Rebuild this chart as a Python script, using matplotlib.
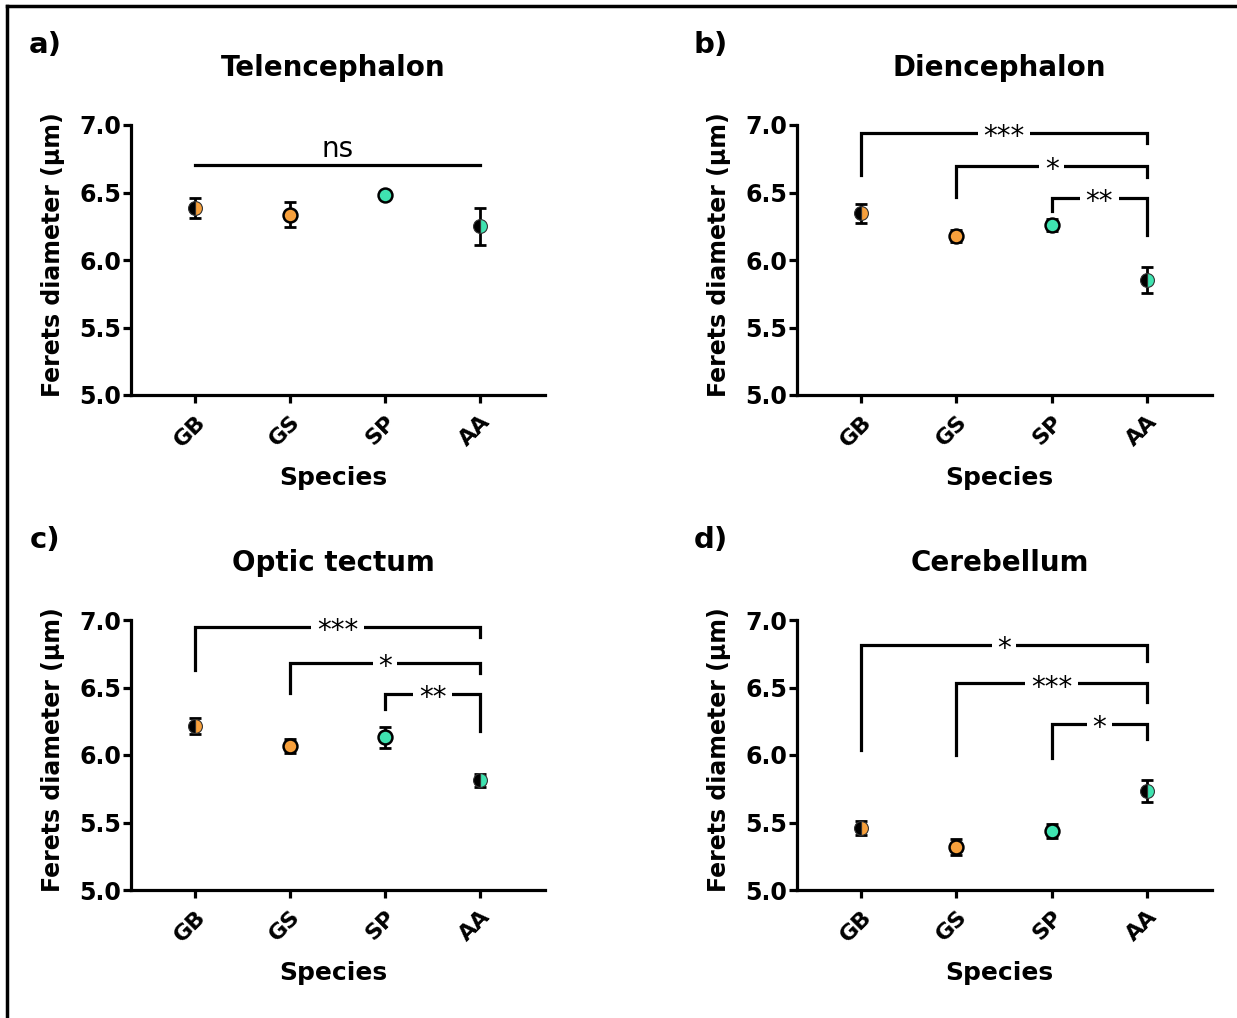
import numpy as np
import matplotlib
matplotlib.use("Agg")
from matplotlib import pyplot as plt
from matplotlib.lines import Line2D

plt.rcParams['font.family'] = ['DejaVu Sans']

species = ['GB', 'GS', 'SP', 'AA']
face_colors = ['#f7a03c', '#f7a03c', '#3fe3b0', '#3fe3b0']
half_filled = [True, False, False, True]

titles = ['Telencephalon', 'Diencephalon', 'Optic tectum', 'Cerebellum']
panel_tags = ['a)', 'b)', 'c)', 'd)']

# mean and error (um) per panel
tel_mean = [6.385, 6.336, 6.478, 6.250]
tel_err = [0.074, 0.095, 0.015, 0.138]
die_mean = [6.345, 6.180, 6.262, 5.854]
die_err = [0.070, 0.045, 0.045, 0.097]
opt_mean = [6.213, 6.067, 6.130, 5.812]
opt_err = [0.058, 0.050, 0.077, 0.047]
cer_mean = [5.457, 5.318, 5.437, 5.735]
cer_err = [0.052, 0.057, 0.050, 0.080]

means = [tel_mean, die_mean, opt_mean, cer_mean]
errs = [tel_err, die_err, opt_err, cer_err]

# significance brackets: (i, j, y top, y left leg end, y right leg end, label)
tel_sig = [(0, 3, 6.705, 6.705, 6.705, 'ns')]
die_sig = [(0, 3, 6.943, 6.626, 6.865, '***'),
           (1, 3, 6.697, 6.464, 6.614, '*'),
           (2, 3, 6.459, 6.360, 6.188, '**')]
opt_sig = [(0, 3, 6.950, 6.630, 6.876, '***'),
           (1, 3, 6.683, 6.460, 6.610, '*'),
           (2, 3, 6.450, 6.340, 6.180, '**')]
cer_sig = [(0, 3, 6.815, 6.040, 6.700, '*'),
           (1, 3, 6.530, 6.000, 6.390, '***'),
           (2, 3, 6.230, 5.980, 6.120, '*')]
sigs = [tel_sig, die_sig, opt_sig, cer_sig]

W, H = 1237, 1018
fig = plt.figure(figsize=(W / 100, H / 100), dpi=100)

# axes boxes in pixels: (left, top, right, bottom)
boxes = [(131, 125, 545, 395), (797, 125, 1212, 395),
         (131, 620, 545, 890), (797, 620, 1212, 890)]

lw = 2.3
for k in range(4):
    l, t, r, b = boxes[k]
    ax = fig.add_axes([l / W, 1 - b / H, (r - l) / W, (b - t) / H])
    x = np.arange(len(species))
    for i in range(len(species)):
        ax.errorbar(x[i], means[k][i], yerr=errs[k][i], fmt='none', ecolor='black',
                    elinewidth=2, capsize=4, capthick=2, zorder=2)
        if half_filled[i]:
            ax.plot(x[i], means[k][i], 'o', ms=10, fillstyle='right', mfc=face_colors[i],
                    markerfacecoloralt='black', mec='#333333', mew=0.8, zorder=3)
        else:
            ax.plot(x[i], means[k][i], 'o', ms=10, mfc=face_colors[i], mec='black',
                    mew=1.8, zorder=3)

    for (i, j, ytop, yl, yr, lab) in sigs[k]:
        ax.plot([i, i, j, j], [yl, ytop, ytop, yr], color='black', lw=lw,
                solid_joinstyle='miter', clip_on=False)
        if lab == 'ns':
            ax.text((i + j) / 2, ytop + 0.015, lab, ha='center', va='bottom', fontsize=20)
        else:
            ax.text((i + j) / 2, ytop - 0.03, lab, ha='center', va='center', fontsize=20,
                    bbox=dict(facecolor='white', edgecolor='none', pad=4))

    ax.set_xlim(-0.674, 3.684)
    ax.set_ylim(5.0, 7.0)
    ax.set_yticks([5.0, 5.5, 6.0, 6.5, 7.0])
    ax.set_yticklabels(['5.0', '5.5', '6.0', '6.5', '7.0'], fontsize=17, fontweight='bold')
    ax.set_xticks(x)
    ax.set_xticklabels(species, fontsize=16, fontweight='bold', rotation=45,
                       ha='right', va='top', rotation_mode='anchor')
    ax.tick_params(axis='both', width=lw, length=6, direction='out')
    ax.tick_params(axis='y', pad=1)
    ax.tick_params(axis='x', pad=6)
    for s in ['top', 'right']:
        ax.spines[s].set_visible(False)
    for s in ['left', 'bottom']:
        ax.spines[s].set_linewidth(lw)
    ax.set_ylabel('Ferets diameter (\u03bcm)', fontsize=17, fontweight='bold')
    ax.yaxis.set_label_coords(-66 / (r - l), 0.52)

    cx = (l + r) / 2 - 5
    fig.text(cx / W, 1 - (t - 57) / H, titles[k], ha='center', va='center',
             fontsize=20, fontweight='bold')
    fig.text(cx / W, 1 - (b + 83) / H, 'Species', ha='center', va='center',
             fontsize=18, fontweight='bold')
    fig.text((l - 86) / W, 1 - (t - 80) / H, panel_tags[k], ha='center', va='center',
             fontsize=21, fontweight='bold')

# outer frame (top and left edges)
fig.add_artist(Line2D([7 / W, 7 / W], [0, 1 - 6 / H], color='black', lw=2.5))
fig.add_artist(Line2D([7 / W, 1], [1 - 6 / H, 1 - 6 / H], color='black', lw=2.5))

fig.savefig('out.png', dpi=100)
